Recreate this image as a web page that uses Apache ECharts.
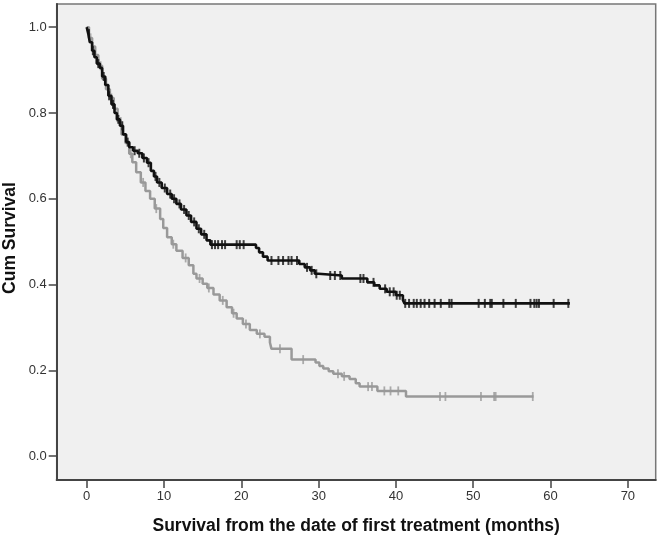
<!DOCTYPE html>
<html>
<head>
<meta charset="utf-8">
<script src="https://cdn.jsdelivr.net/npm/echarts@6/dist/echarts.min.js"></script>
<style>
html,body{margin:0;padding:0;background:#fff;}
#chart{width:660px;height:540px;}
</style>
</head>
<body>
<div id="chart"></div>
<script>
// Kaplan-Meier step points: [months, cumulative survival]
const blackTimes = [0,0.2,0.4,0.7,1.0,1.3,1.7,2.0,2.4,2.8,3.2,3.6,3.9,4.3,4.7,5.1,5.5,6.0,6.6,7.2,7.8,8.3,8.7,9.1,9.7,10.4,11.0,11.6,12.2,12.9,13.5,14.2,14.8,15.5,16.0,21.9,22.3,22.8,23.4,27.5,28.2,28.9,29.5,30.0,33.0,36.3,37.2,37.9,38.8,40.0,40.9,41.1,62.5];
const blackSurv  = [1.0,0.985,0.965,0.945,0.93,0.915,0.905,0.885,0.865,0.84,0.82,0.80,0.785,0.77,0.75,0.732,0.72,0.712,0.706,0.695,0.684,0.665,0.652,0.638,0.625,0.611,0.60,0.588,0.575,0.561,0.546,0.53,0.517,0.503,0.493,0.485,0.475,0.465,0.456,0.448,0.44,0.433,0.425,0.421,0.414,0.405,0.398,0.39,0.383,0.375,0.364,0.356,0.356];
const blackCensor = [0.3,0.8,1.5,2.2,2.9,3.4,4.1,4.6,5.3,6.2,6.8,7.4,8.0,8.9,9.4,10.1,10.8,11.3,12.0,12.6,13.2,13.9,14.5,15.2,16.2,16.6,17.0,17.5,17.9,19.4,19.8,20.3,23.9,24.8,25.4,26.1,26.5,27.2,28.5,29.1,29.7,31.5,32.1,32.8,35.4,35.8,37.1,38.6,39.2,39.7,40.1,40.5,41.2,41.7,42.3,42.7,43.2,43.7,44.3,45.0,45.8,46.9,47.2,50.7,51.5,52.2,52.4,53.9,55.5,57.4,57.9,58.2,58.5,60.4,62.3];

const grayTimes = [0,0.3,0.7,1.1,1.5,2.0,2.5,3.0,3.5,4.0,4.5,5.0,5.5,5.9,6.4,7.0,7.6,8.2,8.8,9.5,9.9,10.4,11.0,11.6,12.4,13.2,13.8,14.2,15.0,15.6,16.4,17.2,18.1,18.8,19.4,20.2,21.1,22.0,23.0,23.7,23.9,26.5,29.6,30.1,30.6,31.3,31.9,33.0,34.0,34.8,35.3,37.6,41.3,57.8];
const graySurv  = [1.0,0.975,0.955,0.935,0.91,0.88,0.855,0.835,0.81,0.78,0.75,0.73,0.705,0.685,0.662,0.638,0.618,0.60,0.577,0.553,0.532,0.51,0.494,0.479,0.462,0.445,0.425,0.414,0.402,0.392,0.377,0.363,0.347,0.333,0.321,0.308,0.294,0.285,0.278,0.265,0.25,0.225,0.218,0.21,0.204,0.198,0.192,0.186,0.18,0.17,0.162,0.152,0.139,0.139];
const grayCensor = [0.5,1.8,3.2,4.4,5.7,7.3,9.0,11.2,12.8,14.6,15.8,17.6,19.0,20.6,22.4,25.0,28.0,32.5,33.3,36.4,36.9,38.5,39.3,40.3,45.7,46.4,51.0,52.7,52.9,57.7];

const xTicks = [0,10,20,30,40,50,60,70];
const yTicks = [0,0.2,0.4,0.6,0.8,1.0];
const xTitle = 'Survival from the date of first treatment (months)';
const yTitle = 'Cum Survival';

function pairs(ts, ss){ return ts.map((t,i)=>[t, ss[i]]); }
function stepAt(ts, ss, t){
  let v = ss[0];
  for (let i=0;i<ts.length;i++){ if (ts[i] <= t) v = ss[i]; else break; }
  return v;
}
function censorPts(cs, ts, ss){ return cs.map(t=>[t, stepAt(ts, ss, t)]); }

const chart = echarts.init(document.getElementById('chart'), null, {renderer:'canvas'});
const font = 'Arial, "Liberation Sans", sans-serif';
chart.setOption({
  animation:false,
  backgroundColor:'#ffffff',
  grid:{left:56.7, right:4.3, top:4, bottom:57.7, show:true, backgroundColor:'#f0f0f0', borderColor:'#777', borderWidth:1.5},
  xAxis:{
    type:'value', min:-3.88, max:73.6,
    name:xTitle, nameLocation:'middle', nameGap:37,
    nameTextStyle:{fontFamily:font, fontWeight:'bold', fontSize:17.5, color:'#111'},
    axisLine:{show:true, onZero:false, lineStyle:{color:'#444', width:2}},
    axisTick:{show:true, length:8, customValues:xTicks, lineStyle:{color:'#444', width:1.5}},
    axisLabel:{customValues:xTicks, margin:10, fontFamily:font, fontSize:13, color:'#333'},
    splitLine:{show:false}
  },
  yAxis:{
    type:'value', min:-0.0557, max:1.054,
    axisLine:{show:true, onZero:false, lineStyle:{color:'#444', width:2}},
    axisTick:{show:true, length:8, customValues:yTicks, lineStyle:{color:'#444', width:1.5}},
    axisLabel:{customValues:yTicks, margin:10, fontFamily:font, fontSize:13, color:'#333', formatter:v=>v.toFixed(1)},
    splitLine:{show:false}
  },
  graphic:[{
    type:'text', x:10, y:238, rotation:Math.PI/2,
    style:{text:yTitle, fontFamily:font, fontWeight:'bold', fontSize:17.5, fill:'#111', align:'center', verticalAlign:'middle'}
  }],
  series:[
    {type:'line', step:'end', data:pairs(grayTimes, graySurv), showSymbol:false, lineStyle:{color:'#999', width:2.5}, z:2},
    {type:'scatter', data:censorPts(grayCensor, grayTimes, graySurv), symbol:'rect', symbolSize:[1.8,9], itemStyle:{color:'#999'}, z:2},
    {type:'line', step:'end', data:pairs(blackTimes, blackSurv), showSymbol:false, lineStyle:{color:'#111', width:2.6}, z:3},
    {type:'scatter', data:censorPts(blackCensor, blackTimes, blackSurv), symbol:'rect', symbolSize:[2,9], itemStyle:{color:'#111'}, z:3}
  ]
});
</script>
</body>
</html>
